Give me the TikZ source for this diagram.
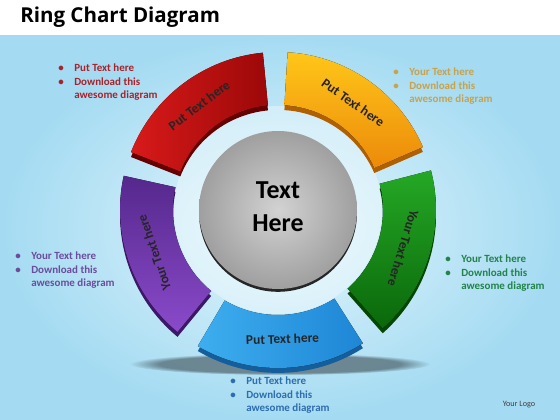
\documentclass[tikz,border=0pt]{standalone}
\usepackage{fontspec}
\setmainfont{Carlito}
\newfontfamily\titlefont{Open Sans}
\usetikzlibrary{fadings}

\definecolor{bgblue}{HTML}{A4DBF2}
\definecolor{bglight}{HTML}{E4F6FC}
\definecolor{red1}{HTML}{D81A1A}
\definecolor{red2}{HTML}{9C0808}
\definecolor{redside}{HTML}{660000}
\definecolor{orange1}{HTML}{FFC619}
\definecolor{orange2}{HTML}{EC8A0A}
\definecolor{orangeside}{HTML}{B06000}
\definecolor{green1}{HTML}{25A825}
\definecolor{green2}{HTML}{0A680A}
\definecolor{greenside}{HTML}{044604}
\definecolor{blue1}{HTML}{3EAEEF}
\definecolor{blue2}{HTML}{1E86D6}
\definecolor{blueside}{HTML}{145E9C}
\definecolor{purple1}{HTML}{55288C}
\definecolor{purple2}{HTML}{8A4ACA}
\definecolor{purpleside}{HTML}{3C1868}
\definecolor{notered}{HTML}{A8232B}
\definecolor{noteorange}{HTML}{C9A24A}
\definecolor{notepurple}{HTML}{6C4C9C}
\definecolor{notegreen}{HTML}{23834A}
\definecolor{noteblue}{HTML}{2E6DAF}

\newcommand{\bulletnote}[3]{%
  \begin{tabular}[t]{@{}l@{\hspace{7.5pt}}l@{}}
    \textbullet & #1\\
    \textbullet & #2\\
                & #3
  \end{tabular}}

\begin{document}
\begin{tikzpicture}
      [
        x=0.025cm, y=0.025cm,
        note/.style={anchor=base west, inner sep=0pt, font=\fontsize{7.8}{9.3}\selectfont\bfseries},
        seglabel/.style={font=\fontsize{9.5}{11}\selectfont\bfseries, text=black!85, inner sep=0pt},
        segred/.style={left color=red1, right color=red2},
        segorange/.style={top color=orange1, bottom color=orange2},
        seggreen/.style={top color=green1, bottom color=green2},
        segblue/.style={left color=blue1, right color=blue2},
        segpurple/.style={top color=purple1, bottom color=purple2}
      ]
      \useasboundingbox (0,0) rectangle (560,420);
      % background
      \shade[inner color=bglight, outer color=bgblue] (0,0) rectangle (560,385);
      \fill[white] (0,385) rectangle (560,420);
      \fill[black, opacity=0.4, path fading=circle with fuzzy edge 20 percent] (280,56) ellipse[x radius=150, y radius=11];
      \node[anchor=base west, inner sep=0pt, font=\titlefont\fontsize{14.6}{16}\selectfont\bfseries] (title) at (20,397) {Ring Chart Diagram};
      % ring
      \begin{scope}[shift={(278,210)}]
        \fill[white, opacity=0.35] (0,0) circle[radius=104];
        \foreach \a/\s/\d in {127/segred/redside, 55/segorange/orangeside, -17/seggreen/greenside, -89/segblue/blueside, 199/segpurple/purpleside}
        {
          \fill[\d, yshift=-3.5pt] (\a-31.5:158) arc[start angle=\a-31.5, end angle=\a+31.5, radius=158]
            -- (\a+31.5:105) arc[start angle=\a+31.5, end angle=\a-31.5, radius=105] -- cycle;
          \fill[\s] (\a-31.5:158) arc[start angle=\a-31.5, end angle=\a+31.5, radius=158]
            -- (\a+31.5:105) arc[start angle=\a+31.5, end angle=\a-31.5, radius=105] -- cycle;
        }
        \fill[gray!30!black, yshift=-2pt] (0,0) circle[radius=79];
        \shade[inner color=gray!35, outer color=gray!75] (0,0) circle[radius=79];
        \node[align=center, font=\fontsize{18.4}{23.4}\selectfont\bfseries] (hub) at (0,3) {Text\\Here};
        \node[seglabel, rotate=37] (lblred) at (127:131) {Put Text here};
        \node[seglabel, rotate=-35] (lblorange) at (55:131) {Put Text here};
        \node[seglabel, rotate=-107] (lblgreen) at (-17:131) {Your Text here};
        \node[seglabel, rotate=2] (lblblue) at (-88:129) {Put Text here};
        \node[seglabel, rotate=109] (lblpurple) at (199:131) {Your Text here};
      \end{scope}
      % notes
      \node[note, text=notered] (nred) at (58,348) {\bulletnote{Put Text  here}{Download this}{awesome diagram}};
      \node[note, text=noteorange] (norange) at (393,344) {\bulletnote{Your Text here}{Download this}{awesome diagram}};
      \node[note, text=notepurple] (npurple) at (15,160) {\bulletnote{Your Text  here}{Download this}{awesome diagram}};
      \node[note, text=notegreen] (ngreen) at (445,157) {\bulletnote{Your Text here}{Download this}{awesome diagram}};
      \node[note, text=noteblue] (nblue) at (230,35) {\bulletnote{Put Text  here}{Download this}{awesome diagram}};
      \node[font=\fontsize{5.8}{7}\selectfont, text=black!75] (logo) at (519,15) {Your Logo};
    \end{tikzpicture}
\end{document}
